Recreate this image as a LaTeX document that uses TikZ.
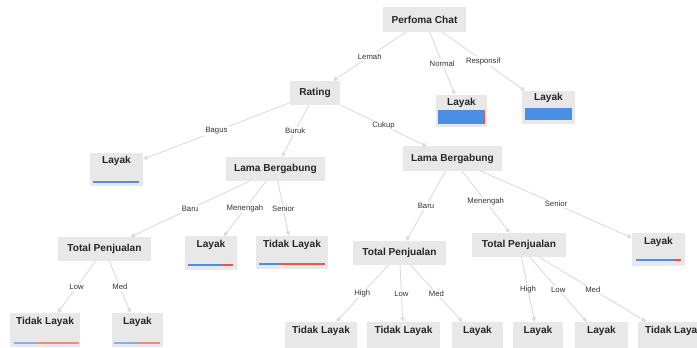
\documentclass[tikz,border=0pt]{standalone}
\usepackage{fontspec}
\setmainfont{Liberation Sans}
\usepackage{tikz}
\usetikzlibrary{arrows.meta}

\definecolor{boxgray}{HTML}{E8E8E8}
\definecolor{edgegray}{HTML}{DADADA}
\definecolor{barblue}{HTML}{4A8FE3}
\definecolor{barred}{HTML}{E9574A}

\tikzset{
  split/.style={fill=boxgray, minimum height=0.6cm, inner sep=0pt,
    font=\fontsize{7.2}{8}\selectfont\bfseries, text=black!85},
  leaf/.style={fill=boxgray, minimum width=1.3cm, inner xsep=0pt, inner ysep=0.08cm,
    text height=0.195cm, text depth=0.47cm,
    font=\fontsize{7.2}{8}\selectfont\bfseries, text=black!85},
  edge/.style={draw=edgegray, line width=0.6pt, -{Triangle[length=3pt,width=3pt]}},
  elabel/.style={fill=white, inner sep=0.8pt, font=\fontsize{5.5}{6}\selectfont, text=black!80}
}

\begin{document}
\begin{tikzpicture}[x=0.025cm, y=-0.025cm]
        \clip (0,0) rectangle (697,348);
        \fill[white] (0,0) rectangle (697,348);

        % Simpul pemisah
        \node[split, minimum width=2.075cm] (root) at (424.5,19.5) {Perfoma Chat};
        \node[split, minimum width=1.25cm] (rating) at (315,93) {Rating};
        \node[split, minimum width=2.475cm] (lama_buruk) at (275.5,169) {Lama Bergabung};
        \node[split, minimum width=2.475cm] (lama_cukup) at (452.5,158.5) {Lama Bergabung};
        \node[split, minimum width=2.325cm] (tp_a) at (104.5,249) {Total Penjualan};
        \node[split, minimum width=2.325cm] (tp_b) at (399.5,253) {Total Penjualan};
        \node[split, minimum width=2.325cm] (tp_c) at (519,245) {Total Penjualan};

        % Simpul daun
        \node[leaf, minimum width=1.275cm, minimum height=0.8cm, text depth=0.445cm] (leaf_normal) at (461.5,111) {Layak};
        \node[leaf, minimum width=1.325cm, text height=0.17cm, text depth=0.5cm, minimum height=0.775cm] (leaf_resp) at (548.5,107.5) {Layak};
        \node[leaf, minimum width=1.325cm] (leaf_bagus) at (116.5,169.5) {Layak};
        \node[leaf] (leaf_meneng) at (211,253) {Layak};
        \node[leaf, minimum width=1.8cm] (leaf_senior) at (292,252.5) {Tidak Layak};
        \node[leaf, minimum width=1.325cm] (leaf_senior2) at (658.5,249.5) {Layak};
        \node[leaf, minimum width=1.75cm, minimum height=0.85cm, text depth=0.495cm] (leaf_low) at (45,330) {Tidak Layak};
        \node[leaf, minimum width=1.275cm, minimum height=0.85cm, text depth=0.495cm] (leaf_med) at (137.5,330) {Layak};
        \node[leaf, minimum width=1.8cm] (leaf_b_high) at (321,338.5) {Tidak Layak};
        \node[leaf, minimum width=1.825cm] (leaf_b_low) at (403.5,338.5) {Tidak Layak};
        \node[leaf, minimum width=1.275cm] (leaf_b_med) at (477.5,338.5) {Layak};
        \node[leaf, minimum width=1.25cm] (leaf_c_high) at (538,338.5) {Layak};
        \node[leaf, minimum width=1.325cm] (leaf_c_low) at (601.5,338.5) {Layak};
        \node[leaf, minimum width=1.8cm] (leaf_c_med) at (674,338.5) {Tidak Layak};

        % Cabang
        \draw[edge] (root) -- node[elabel, midway] {Lemah} (rating);
        \draw[edge] (root) -- node[elabel, midway] {Normal} (leaf_normal);
        \draw[edge] (root) -- node[elabel, midway] {Responsif} (leaf_resp);
        \draw[edge] (rating) -- node[elabel, midway] {Bagus} (leaf_bagus);
        \draw[edge] (rating) -- node[elabel, midway] {Buruk} (lama_buruk);
        \draw[edge] (rating) -- node[elabel, midway] {Cukup} (lama_cukup);
        \draw[edge] (lama_buruk) -- node[elabel, midway] {Baru} (tp_a);
        \draw[edge] (lama_buruk) -- node[elabel, midway] {Menengah} (leaf_meneng);
        \draw[edge] (lama_buruk) -- node[elabel, midway] {Senior} (leaf_senior);
        \draw[edge] (lama_cukup) -- node[elabel, midway] {Baru} (tp_b);
        \draw[edge] (lama_cukup) -- node[elabel, midway] {Menengah} (tp_c);
        \draw[edge] (lama_cukup) -- node[elabel, midway] {Senior} (leaf_senior2);
        \draw[edge] (tp_a) -- node[elabel, midway] {Low} (leaf_low);
        \draw[edge] (tp_a) -- node[elabel, midway] {Med} (leaf_med);
        \draw[edge] (tp_b) -- node[elabel, midway] {High} (leaf_b_high);
        \draw[edge] (tp_b) -- node[elabel, midway] {Low} (leaf_b_low);
        \draw[edge] (tp_b) -- node[elabel, midway] {Med} (leaf_b_med);
        \draw[edge] (tp_c) -- node[elabel, midway] {High} (leaf_c_high);
        \draw[edge] (tp_c) -- node[elabel, midway] {Low} (leaf_c_low);
        \draw[edge] (tp_c) -- node[elabel, midway] {Med} (leaf_c_med);

        % Sebaran kelas
        \fill[barblue] (438,110) rectangle (483,124);
        \fill[barred] (483,110) rectangle (484.5,124);
        \fill[barblue] (525,108) rectangle (571.5,120);
        \draw[barblue, line width=1.4pt] (93,182) -- (139,182);
        \draw[barblue, line width=1.4pt] (188,265) -- (222,265);
        \draw[barred, line width=1.4pt] (222,265) -- (233,265);
        \draw[barblue, line width=1.4pt] (259,264) -- (279,264);
        \draw[barred, line width=1.4pt] (279,264) -- (325,264);
        \draw[barblue, line width=1.4pt] (636,260) -- (674,260);
        \draw[barred, line width=1.4pt] (674,260) -- (681,260);
        \draw[barblue!70, line width=1.4pt] (14,343) -- (36,343);
        \draw[barred!70, line width=1.4pt] (36,343) -- (79,343);
        \draw[barblue!70, line width=1.4pt] (114,343) -- (137,343);
        \draw[barred!70, line width=1.4pt] (137,343) -- (160,343);
    \end{tikzpicture}
\end{document}
